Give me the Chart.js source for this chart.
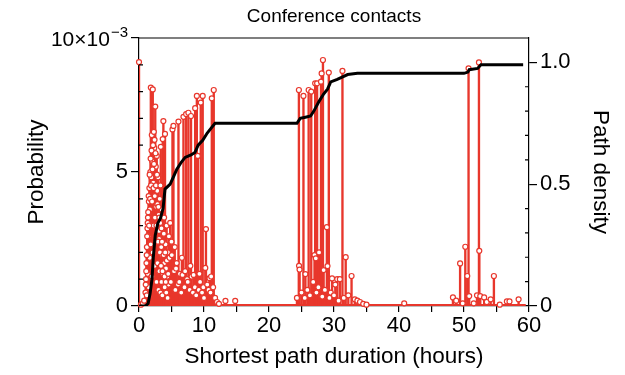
<!DOCTYPE html>
<html>
<head>
<meta charset="utf-8">
<script src="https://cdn.jsdelivr.net/npm/chart.js@4.4.1/dist/chart.umd.min.js"></script>
<style>
  body { margin:0; background:#fff; }
</style>
</head>
<body>
<canvas id="chart" width="625" height="375"></canvas>
<script>
// shortest path duration (hours) -> probability, in units of 10^-3
const durations = [
  0.0, 0.3, 0.6, 0.8,
  1.00, 1.08, 1.15, 1.22, 1.30, 1.38, 1.45, 1.52, 1.60, 1.68, 1.75, 1.82, 1.90, 1.97,
  2.05, 2.12, 2.20, 2.28, 2.35, 2.43, 2.50, 2.58, 2.65, 2.73, 2.80, 2.88, 2.95,
  3.03, 3.10, 3.18, 3.25, 3.35, 3.42, 3.50, 3.58, 3.65, 3.75, 3.82, 3.90,
  4.00, 4.08, 4.15, 4.25, 4.35, 4.45, 4.55,
  1.20, 1.35, 1.50, 1.65, 1.80, 1.95, 2.10, 2.25, 2.40, 2.55, 2.70, 2.85,
  3.00, 3.15, 3.30, 3.45, 3.60, 3.70, 3.95, 4.20, 4.40,
  1.04, 1.12, 1.19, 1.26, 1.34, 1.42, 1.49, 1.56, 1.64, 1.72, 1.79, 1.86, 1.93,
  2.01, 2.08, 2.16, 2.24, 2.31, 2.39, 2.46, 2.54, 2.62, 2.69, 2.77, 2.84, 2.92, 2.99,
  3.07, 3.14, 3.22, 3.30, 3.38, 3.46, 3.54, 3.62, 3.79, 3.86, 3.94, 4.04, 4.12, 4.30, 4.50,
  4.6, 4.7, 4.8, 4.9, 5.0, 5.05, 5.15, 5.3, 5.4, 5.5, 5.6, 5.7, 5.8, 6.0, 6.07, 6.2,
  6.3, 6.5, 6.6, 6.7, 6.84, 7.0, 7.1, 7.25, 7.4, 7.5, 7.6, 7.8, 7.9, 8.0, 8.1, 8.3,
  8.4, 8.6, 8.64, 8.8, 8.9, 9.05, 9.2, 9.3, 9.4, 9.5, 9.7, 9.8, 9.9, 10.0, 10.2, 10.3,
  10.5, 10.7, 10.85, 11.0, 11.1, 11.2, 11.4, 11.5, 11.7, 12.0, 12.3,
  13.3, 14.8,
  24.3, 24.6, 24.62, 24.7, 25.0, 25.3, 25.5, 25.6, 25.9, 26.1, 26.3, 26.5, 26.8,
  27.0, 27.1, 27.2, 27.3, 27.4, 27.6, 27.7, 28.0, 28.1, 28.2, 28.3, 28.4, 28.6,
  28.9, 29.0, 29.2, 29.3, 29.5, 29.7, 30.0, 30.2, 30.5, 30.7, 30.9, 31.3, 31.5,
  31.8, 32.2, 32.7, 33.2, 33.6, 34.0, 34.5, 35.0,
  40.8,
  48.3, 48.8, 49.4, 49.8, 50.2, 50.5, 50.7, 50.8, 51.5, 52.0, 52.3, 52.35, 52.5,
  53.1, 53.5, 54.1, 54.6, 55.5, 56.6, 57.0, 58.4
];
const probability = [
  9.1, 0.05, 0.1, 0.2,
  0.5, 1.0, 1.6, 2.2, 2.9, 3.3, 2.6, 3.9, 4.4, 3.6, 5.0, 8.15, 4.8, 6.38,
  5.4, 8.08, 4.6, 6.5, 5.9, 4.1, 7.44, 5.2, 3.7, 5.6, 4.3, 2.9, 4.8,
  3.4, 2.5, 4.0, 3.1, 5.94, 2.2, 3.6, 1.9, 6.23, 6.9, 2.7, 1.6,
  6.42, 2.3, 1.4, 3.0, 1.1, 2.0, 0.8,
  0.4, 1.2, 0.7, 1.8, 2.3, 1.1, 2.0, 3.0, 1.5, 2.4, 0.9, 1.6,
  0.6, 1.3, 0.5, 0.9, 0.4, 1.2, 0.7, 0.5, 0.3,
  0.8, 1.3, 1.9, 2.6, 3.1, 3.5, 4.1, 3.0, 4.9, 4.0, 5.5, 4.5, 5.8,
  3.9, 5.1, 6.0, 4.4, 5.3, 6.2, 3.3, 5.7, 4.5, 3.0, 4.9, 3.8, 2.4, 3.7,
  2.8, 3.3, 2.0, 4.5, 1.5, 2.9, 2.4, 1.3, 1.9, 3.3, 1.1, 2.0, 0.9, 1.7, 1.2,
  2.6, 1.8, 3.1, 0.9, 2.4, 1.9, 6.59, 6.72, 1.3, 2.2, 0.6, 1.4, 1.6, 0.8, 6.88, 0.9,
  1.2, 0.5, 1.8, 1.16, 7.06, 0.7, 1.3, 7.16, 1.0, 0.9, 7.21, 0.6, 1.5, 7.09, 1.1, 0.5,
  1.16, 0.7, 7.38, 0.4, 7.84, 5.6, 0.6, 1.2, 0.9, 7.59, 0.5, 7.84, 0.7, 0.3, 1.42, 2.87,
  0.8, 0.6, 1.04, 0.5, 1.1, 7.75, 0.7, 8.06, 0.3, 0.15, 0.08,
  0.19, 0.19,
  0.3, 8.06, 1.5, 1.36, 0.5, 7.84, 0.3, 1.19, 0.6, 8.06, 0.4, 8.0, 0.9,
  1.9, 8.31, 1.78, 0.5, 8.31, 0.7, 2.0, 8.37, 8.68, 0.35, 9.18, 1.34, 0.6,
  2.94, 1.49, 8.71, 0.3, 0.5, 1.03, 0.4, 0.8, 1.0, 0.2, 1.0, 8.77, 0.3,
  1.82, 0.4, 1.12, 0.25, 0.2, 0.15, 0.08, 0.05,
  0.1,
  0.32, 0.2, 1.59, 0.1, 2.21, 1.12, 8.87, 0.37, 0.1, 0.4, 9.09, 2.06, 0.37,
  0.32, 0.15, 0.25, 1.12, 0.05, 0.17, 0.17, 0.25
];
// cumulative path density
const cdfHours = [0, 1.0, 1.4, 1.7, 2.0, 2.2, 2.5, 2.9, 3.3, 3.7, 4.0, 4.8, 5.3, 5.8, 6.5, 7.1,
  8.0, 8.6, 9.1, 9.8, 10.5, 11.1, 11.7, 24.3, 24.8, 25.6, 26.4, 26.9, 27.7, 28.4, 29.0,
  29.5, 30.5, 32.1, 33.6, 50.0, 50.6, 50.8, 52.1, 52.6, 54.2, 59.1];
const cdfDensity = [0, 0, 0.01, 0.05, 0.11, 0.20, 0.29, 0.34, 0.36, 0.40, 0.48, 0.50, 0.53, 0.56, 0.59, 0.61,
  0.62, 0.63, 0.66, 0.68, 0.71, 0.73, 0.75, 0.75, 0.77, 0.775, 0.78, 0.80, 0.84, 0.87, 0.89,
  0.92, 0.93, 0.95, 0.955, 0.955, 0.96, 0.97, 0.975, 0.99, 0.99, 0.99];
// zero-probability floor spans the whole range
const zeroRange = [0, 59.5];

const probTicks = [0, 5, 10];
const probMinorTicks = [1, 2, 3, 4, 6, 7, 8, 9];
const densityTicks = [0, 0.5, 1.0];
const densityMinorTicks = [0.1, 0.2, 0.3, 0.4, 0.6, 0.7, 0.8, 0.9];

const red = '#e8372c';
const fontFam = '"Liberation Sans", Arial, Helvetica, sans-serif';
Chart.defaults.color = '#000';
Chart.defaults.font.family = fontFam;

const extras = {
  id: 'extras',
  afterDraw(chart) {
    const ctx = chart.ctx, a = chart.chartArea;
    const y = chart.scales.y, y2 = chart.scales.y2;
    ctx.save();
    ctx.strokeStyle = '#000';
    ctx.lineWidth = 1.2;
    ctx.beginPath();
    ctx.moveTo(a.left, a.top); ctx.lineTo(a.right, a.top);
    probMinorTicks.forEach(v => {
      const p = y.getPixelForValue(v);
      ctx.moveTo(a.left, p); ctx.lineTo(a.left + 4, p);
    });
    densityMinorTicks.forEach(v => {
      const p = y2.getPixelForValue(v);
      ctx.moveTo(a.right, p); ctx.lineTo(a.right - 4, p);
    });
    ctx.stroke();

    ctx.fillStyle = '#000';
    ctx.font = '19px ' + fontFam;
    ctx.textAlign = 'center';
    ctx.textBaseline = 'middle';
    ctx.fillText('Conference contacts', (a.left + a.right) / 2, 17);

    // top tick label with exponent
    const top = y.getPixelForValue(10);
    ctx.textBaseline = 'alphabetic';
    ctx.font = '15px ' + fontFam;
    const expW = ctx.measureText('\u22123').width;
    ctx.textAlign = 'right';
    ctx.fillText('\u22123', a.left - 11, top - 1);
    ctx.font = '21px ' + fontFam;
    ctx.fillText('10\u00d710', a.left - 12 - expW, top + 8);
    ctx.restore();
  }
};

new Chart('chart', {
  type: 'scatter',
  data: {
    datasets: [
      {
        type: 'line',
        data: cdfHours.map((h, i) => ({x: h, y: cdfDensity[i]})),
        yAxisID: 'y2',
        borderColor: '#000',
        borderWidth: 3,
        pointRadius: 0,
        order: 0
      },
      {
        type: 'scatter',
        data: durations.map((h, i) => ({x: h, y: probability[i]})),
        yAxisID: 'y',
        pointRadius: 2.5,
        pointBorderWidth: 1.2,
        pointBackgroundColor: '#fff',
        pointBorderColor: red,
        clip: false,
        order: 1
      },
      {
        type: 'bar',
        data: durations.map((h, i) => ({x: h, y: probability[i]})),
        yAxisID: 'y',
        backgroundColor: red,
        barThickness: 1.7,
        order: 2
      },
      {
        type: 'line',
        data: zeroRange.map(h => ({x: h, y: 0})),
        yAxisID: 'y',
        borderColor: red,
        borderWidth: 4,
        pointRadius: 0,
        order: 3
      }
    ]
  },
  options: {
    responsive: false,
    animation: false,
    devicePixelRatio: 1,
    layout: { padding: { top: 38, left: 0, right: 0, bottom: 0 } },
    plugins: { legend: { display: false }, tooltip: { enabled: false } },
    scales: {
      x: {
        type: 'linear',
        min: 0, max: 60,
        offset: false,
        afterFit: s => { s.height = 69; },
        ticks: {
          stepSize: 5,
          font: { size: 22 },
          padding: 1,
          maxRotation: 0,
          callback: v => (v % 10 === 0 ? String(v) : '')
        },
        grid: { drawOnChartArea: false, tickLength: 6, color: '#000', lineWidth: 1.2, offset: false },
        border: { color: '#000', width: 1.2 },
        title: { display: true, text: 'Shortest path duration (hours)', font: { size: 22.5 }, padding: { top: 0, bottom: 5 } }
      },
      y: {
        position: 'left',
        min: 0, max: 10,
        z: 1,
        afterFit: s => { s.width = 139; },
        afterBuildTicks: s => { s.ticks = probTicks.map(v => ({value: v})); },
        ticks: {
          font: { size: 22 },
          padding: 3,
          callback: v => (v === 10 ? '' : String(v))
        },
        grid: { drawOnChartArea: false, tickLength: 8, color: '#000', lineWidth: 1.2 },
        border: { color: '#000', width: 1.2 },
        title: { display: true, text: 'Probability', font: { size: 22.5 }, padding: { top: 23, bottom: 0 } }
      },
      y2: {
        position: 'right',
        min: 0, max: 1.1,
        afterFit: s => { s.width = 96; },
        afterBuildTicks: s => { s.ticks = densityTicks.map(v => ({value: v})); },
        ticks: {
          font: { size: 22 },
          padding: 3,
          callback: v => (v === 0 ? '0' : v.toFixed(1))
        },
        grid: { drawOnChartArea: false, tickLength: 8, color: '#000', lineWidth: 1.2 },
        border: { color: '#000', width: 1.2 },
        title: { display: true, text: 'Path density', font: { size: 22.5 }, padding: { top: 11, bottom: 0 } }
      }
    }
  },
  plugins: [extras]
});
</script>
</body>
</html>
